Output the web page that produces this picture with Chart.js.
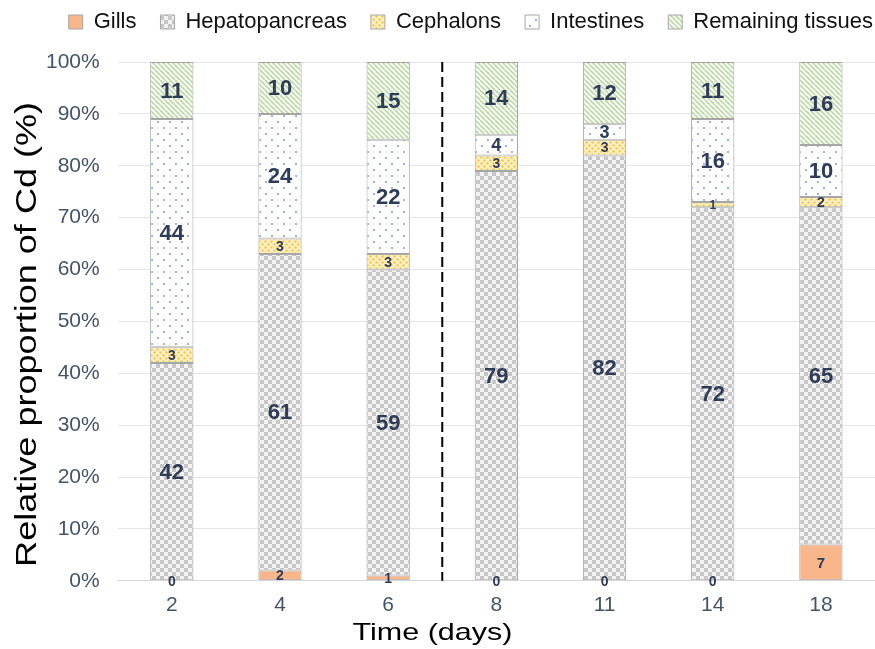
<!DOCTYPE html>
<html>
<head>
<meta charset="utf-8">
<script src="https://cdn.jsdelivr.net/npm/chart.js@4"></script>
<style>
html,body{margin:0;padding:0;background:#fff;overflow:hidden;}
#wrap{width:875px;height:649px;position:relative;}
</style>
</head>
<body>
<div id="wrap"><canvas id="c"></canvas></div>
<script>
// ---- data ----
const days = ['2', '4', '6', '8', '11', '14', '18'];
const gills = [0, 2, 1, 0, 0, 0, 7];
const hepatopancreas = [42, 61, 59, 79, 82, 72, 65];
const cephalons = [3, 3, 3, 3, 3, 1, 2];
const intestines = [44, 24, 22, 4, 3, 16, 10];
const remaining = [11, 10, 15, 14, 12, 11, 16];
const yTicks = [0, 10, 20, 30, 40, 50, 60, 70, 80, 90, 100];
const yTitle = 'Relative proportion of Cd (%)';
const xTitle = 'Time (days)';

// ---- patterns ----
function makePattern(w, h, draw) {
  const c = document.createElement('canvas');
  c.width = w; c.height = h;
  const g = c.getContext('2d');
  draw(g, w, h);
  return g.createPattern(c, 'repeat');
}
const pGills = makePattern(4, 4, (g) => {
  g.fillStyle = '#F8B88C'; g.fillRect(0, 0, 4, 4);
  g.fillStyle = '#F5AF84'; g.fillRect(0, 0, 1, 1); g.fillRect(2, 2, 1, 1);
});
const pHep = makePattern(8, 8, (g) => {
  g.fillStyle = '#F3F3F3'; g.fillRect(0, 0, 8, 8);
  g.fillStyle = '#C7C7C7'; g.fillRect(0, 0, 4, 4); g.fillRect(4, 4, 4, 4);
});
const pCeph = makePattern(6, 6, (g) => {
  g.fillStyle = '#FDF0C6'; g.fillRect(0, 0, 6, 6);
  g.fillStyle = '#F6C646';
  g.beginPath(); g.arc(1.5, 1.5, 1.2, 0, Math.PI * 2); g.fill();
  g.beginPath(); g.arc(4.5, 4.5, 1.2, 0, Math.PI * 2); g.fill();
});
const pInt = makePattern(12, 12, (g) => {
  g.fillStyle = '#FFFFFF'; g.fillRect(0, 0, 12, 12);
  g.fillStyle = '#7E9BDA';
  g.beginPath(); g.arc(2, 2, 1, 0, Math.PI * 2); g.fill();
  g.beginPath(); g.arc(8, 8, 1, 0, Math.PI * 2); g.fill();
});
const pRem = makePattern(5, 5, (g) => {
  g.fillStyle = '#FAFCF7'; g.fillRect(0, 0, 5, 5);
  g.strokeStyle = '#BCD8A6'; g.lineWidth = 1.6;
  for (let k = -5; k <= 10; k += 5) {
    g.beginPath(); g.moveTo(k, 0); g.lineTo(k + 5, 5); g.stroke();
  }
});

const borderCol = '#A6A6A6';
function ds(label, data, bg, sizeFn) {
  return { label, data, backgroundColor: bg, borderColor: borderCol, borderWidth: 1,
           barPercentage: 0.4, categoryPercentage: 1.0, labelSize: sizeFn, borderSkipped: false };
}

const labelPlugin = {
  id: 'segLabels',
  afterDatasetsDraw(chart) {
    const ctx = chart.ctx;
    ctx.save();
    ctx.fillStyle = '#2F3C58';
    ctx.textAlign = 'center';
    ctx.textBaseline = 'middle';
    chart.data.datasets.forEach((d, i) => {
      const meta = chart.getDatasetMeta(i);
      meta.data.forEach((bar, j) => {
        const v = d.data[j];
        const size = d.labelSize(v);
        ctx.font = 'bold ' + size + 'px "Liberation Sans", Arial, sans-serif';
        const y = (bar.y + bar.base) / 2;
        ctx.fillText(String(v), bar.x, y + 1);
      });
    });
    ctx.restore();
  }
};

const dashPlugin = {
  id: 'dashLine',
  afterDatasetsDraw(chart) {
    const xs = chart.scales.x, ys = chart.scales.y;
    const x = (xs.getPixelForValue(2) + xs.getPixelForValue(3)) / 2;
    const ctx = chart.ctx;
    ctx.save();
    ctx.strokeStyle = '#000';
    ctx.lineWidth = 2;
    ctx.setLineDash([10, 5]);
    ctx.beginPath();
    ctx.moveTo(x, ys.getPixelForValue(100));
    ctx.lineTo(x, ys.getPixelForValue(0));
    ctx.stroke();
    ctx.restore();
  }
};

// axis titles (wide font look of the original)
const titlePlugin = {
  id: 'axisTitles',
  afterDraw(chart) {
    const ctx = chart.ctx;
    const area = chart.chartArea;
    ctx.save();
    ctx.fillStyle = '#000';
    ctx.textAlign = 'center';
    ctx.textBaseline = 'alphabetic';
    // y title
    ctx.font = '30px "Liberation Sans", Arial, sans-serif';
    let w = ctx.measureText(yTitle).width;
    ctx.save();
    ctx.translate(36, (area.top + area.bottom) / 2 + 13);
    ctx.rotate(-Math.PI / 2);
    ctx.scale(465 / w, 1);
    ctx.fillText(yTitle, 0, 0);
    ctx.restore();
    // x title
    ctx.font = '24px "Liberation Sans", Arial, sans-serif';
    w = ctx.measureText(xTitle).width;
    ctx.save();
    ctx.translate(chart.width / 2 - 5, 640);
    ctx.scale(160 / w, 1);
    ctx.fillText(xTitle, 0, 0);
    ctx.restore();
    ctx.restore();
  }
};

const legendTweak = {
  id: 'legendTweak',
  afterInit(chart) {
    const lg = chart.legend;
    if (!lg) return;
    const orig = lg.fit;
    lg.fit = function () { orig.call(this); this.height = 75; };
  },
  afterLayout(chart) {
    const lg = chart.legend;
    if (!lg) return;
    lg.left += 22; lg.right += 22;
  }
};

new Chart(document.getElementById('c'), {
  type: 'bar',
  data: {
    labels: days,
    datasets: [
      ds('Gills', gills, pGills, v => v >= 5 ? 15 : 14),
      ds('Hepatopancreas', hepatopancreas, pHep, v => 22),
      ds('Cephalons', cephalons, pCeph, v => v < 2 ? 12 : 14),
      ds('Intestines', intestines, pInt, v => v < 10 ? 18 : 22),
      ds('Remaining tissues', remaining, pRem, v => 22)
    ]
  },
  options: {
    responsive: true,
    maintainAspectRatio: false,
    animation: false,
    devicePixelRatio: 1,
    layout: { padding: { left: 0, right: 0, top: -13, bottom: 19 } },
    plugins: {
      legend: {
        position: 'top',
        align: 'end',
        labels: {
          boxWidth: 14, boxHeight: 14, padding: 24,
          color: '#111',
          font: { size: 22, family: '"Liberation Sans", Arial, sans-serif' }
        }
      },
      tooltip: { enabled: false }
    },
    scales: {
      x: {
        stacked: true,
        grid: { display: false, drawTicks: false },
        border: { color: '#D9D9D9' },
        ticks: { color: '#44546A', font: { size: 21, family: '"Liberation Sans", Arial, sans-serif' }, padding: 12 },
        title: { display: false }
      },
      y: {
        stacked: true,
        min: 0, max: 100,
        afterBuildTicks(axis) { axis.ticks = yTicks.map(v => ({ value: v })); },
        afterFit(axis) { axis.width += 28; },
        grid: { color: '#E4E6EC', drawTicks: false },
        border: { display: false },
        ticks: { color: '#44546A', font: { size: 21, family: '"Liberation Sans", Arial, sans-serif' }, padding: 18,
                 callback: v => v + '%' },
        title: { display: false }
      }
    }
  },
  plugins: [labelPlugin, dashPlugin, titlePlugin, legendTweak]
});
</script>
</body>
</html>
